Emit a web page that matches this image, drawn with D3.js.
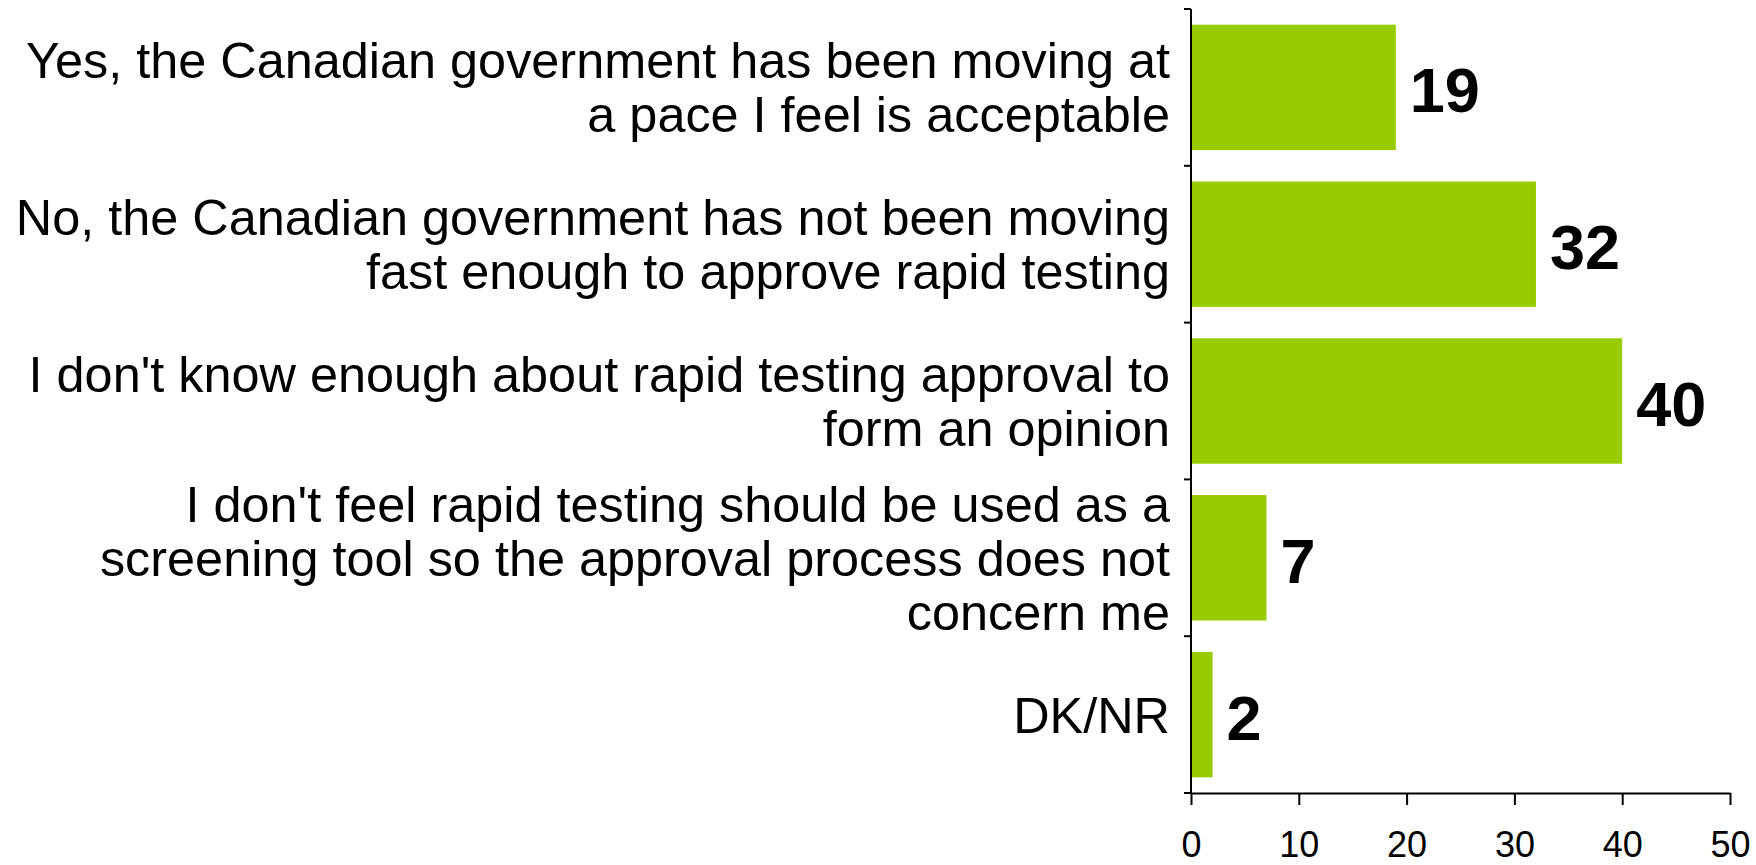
<!DOCTYPE html>
<html>
<head>
<meta charset="utf-8">
<script src="https://cdn.jsdelivr.net/npm/d3@7"></script>
<style>
  body { margin: 0; background: #fff; }
  svg { display: block; font-family: "Liberation Sans", Arial, sans-serif; }
  .axis path, .axis line { stroke: #000; stroke-width: 2; }
  .axis text { font-size: 36px; fill: #000; }
</style>
</head>
<body>
<div class="chart"></div>
<script>
const width = 1756;
const height = 865;
const margin = {top: 9, right: 26, bottom: 72, left: 1191};

// data
const categories = [
  ['Yes, the Canadian government has been moving at', 'a pace I feel is acceptable'],
  ['No, the Canadian government has not been moving', 'fast enough to approve rapid testing'],
  ["I don't know enough about rapid testing approval to", 'form an opinion'],
  ["I don't feel rapid testing should be used as a", 'screening tool so the approval process does not', 'concern me'],
  ['DK/NR']
];
const values = [19, 32, 40, 7, 2];
const xTicks = [0, 10, 20, 30, 40, 50];

const barColor = '#99cc00';

const svg = d3.select('.chart')
  .append('svg')
  .attr('width', width)
  .attr('height', height);

const xScale = d3.scaleLinear()
  .domain([0, 50])
  .range([margin.left, width - margin.right]);

const idx = d3.range(values.length);
const yScale = d3.scaleBand()
  .domain(idx)
  .range([margin.top, height - margin.bottom])
  .paddingInner(0.2)
  .paddingOuter(0.1);

// bars
svg.selectAll('rect.bar')
  .data(values)
  .enter().append('rect')
  .attr('class', 'bar')
  .attr('x', xScale(0))
  .attr('y', (d, i) => yScale(i))
  .attr('width', d => xScale(d) - xScale(0))
  .attr('height', yScale.bandwidth())
  .attr('fill', barColor);

// x axis
const xAxis = d3.axisBottom(xScale)
  .tickValues(xTicks)
  .tickSize(12)
  .tickPadding(26)
  .tickSizeOuter(0);

svg.append('g')
  .attr('class', 'axis')
  .attr('transform', `translate(0, ${height - margin.bottom})`)
  .call(xAxis)
  .call(g => g.selectAll('text').attr('font-family', null));

// y axis: ticks sit between categories
const step = yScale.step();
const bounds = d3.range(values.length + 1).map(i => margin.top + i * step);
const yAxisG = svg.append('g').attr('class', 'axis');
yAxisG.append('line')
  .attr('x1', xScale(0)).attr('x2', xScale(0))
  .attr('y1', margin.top).attr('y2', height - margin.bottom);
yAxisG.selectAll('line.tick')
  .data(bounds)
  .enter().append('line')
  .attr('class', 'tick')
  .attr('x1', xScale(0) - 7).attr('x2', xScale(0))
  .attr('y1', d => d).attr('y2', d => d);

// category labels
const lineH = 54;
const labels = svg.append('g')
  .attr('font-size', 50.4)
  .attr('text-anchor', 'end')
  .attr('fill', '#000');

labels.selectAll('text')
  .data(categories)
  .enter().append('text')
  .attr('x', xScale(0) - 21)
  .attr('y', (d, i) => yScale(i) + yScale.bandwidth() / 2)
  .each(function(lines) {
    const t = d3.select(this);
    const off = -(lines.length - 1) / 2 * lineH;
    lines.forEach((l, j) => {
      t.append('tspan')
        .attr('x', xScale(0) - 21)
        .attr('dy', j === 0 ? off + 18 : lineH)
        .text(l);
    });
  });

// value labels
svg.append('g')
  .selectAll('text')
  .data(values)
  .enter().append('text')
  .attr('x', d => xScale(d) + 14)
  .attr('y', (d, i) => yScale(i) + yScale.bandwidth() / 2 + 25)
  .attr('font-size', 63)
  .attr('font-weight', 'bold')
  .attr('fill', '#000')
  .text(d => d);
</script>
</body>
</html>
